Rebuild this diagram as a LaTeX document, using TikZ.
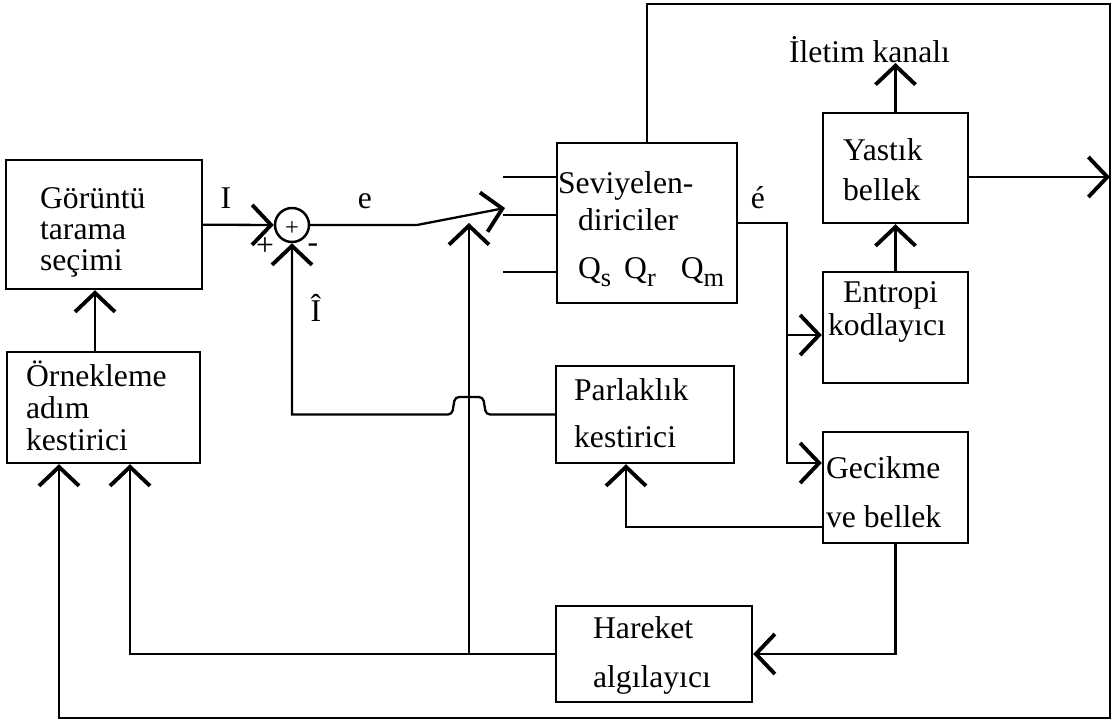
\documentclass[tikz,border=0pt]{standalone}
\usepackage{fontspec}
\setmainfont{Liberation Serif}
\usetikzlibrary{arrows.meta}
\newcommand\lblfont[1]{\fontsize{18}{#1}\selectfont}
\newcommand\qsub[1]{Q\raisebox{-5pt}{\fontsize{15}{15}\selectfont #1}}

\begin{document}
\begin{tikzpicture}[x=0.02cm, y=-0.02cm, line width=1.3pt,
    kutu/.style 2 args={draw, line width=1.4pt, inner sep=0pt, minimum width=#1, minimum height=#2},
    metin/.style={align=left, inner sep=0pt, anchor=base west},
    isaret/.style={inner sep=0pt, font=\lblfont{20pt}},
    ok/.style={-{Straight Barb[length=0.38cm, width=0.8cm, line width=2.2pt]}}
  ]
  \useasboundingbox (0,0) rectangle (1114,723);

  % bloklar
  \node[kutu={3.92cm}{2.58cm}] (goruntu) at (104,224.5) {};
  \node[kutu={3.86cm}{2.22cm}] (ornek) at (103.5,407.5) {};
  \node[kutu={3.6cm}{3.2cm}] (sev) at (647,223) {};
  \node[kutu={3.56cm}{1.94cm}] (parl) at (645,414.5) {};
  \node[kutu={3.92cm}{1.92cm}] (hareket) at (654,654) {};
  \node[kutu={2.9cm}{2.2cm}] (yastik) at (895.5,168) {};
  \node[kutu={2.9cm}{2.22cm}] (entropi) at (895.5,327.5) {};
  \node[kutu={2.9cm}{2.22cm}] (gecikme) at (895.5,487.5) {};
  \node[draw, circle, line width=1.4pt, minimum size=0.68cm, inner sep=0pt] (sum) at (292,225) {};

  % yazilar (son satirin taban cizgisine gore)
  \node[metin, font=\lblfont{17.5pt}] (goruntuT) at (39,270) {Görüntü\\tarama\\seçimi};
  \node[metin, font=\lblfont{18pt}] (ornekT) at (25,450) {Örnekleme\\adım\\kestirici};
  \node[metin, font=\lblfont{21pt}] (sevT) at (557,278)
    {Seviyelen-\\\hspace*{0.4cm}diriciler\\[0.22cm]\hspace*{0.4cm}\qsub{s}\hspace{0.26cm}\qsub{r}\hspace{0.5cm}\qsub{m}};
  \node[metin, font=\lblfont{26.6pt}] (parlT) at (573,447) {Parlaklık\\kestirici};
  \node[metin, font=\lblfont{27.8pt}] (hareketT) at (592,687) {Hareket\\algılayıcı};
  \node[metin, font=\lblfont{18.5pt}] (entropiT) at (827,335) {\hspace*{0.3cm}Entropi\\kodlayıcı};
  \node[metin, font=\lblfont{27.8pt}] (gecikmeT) at (825,527) {Gecikme\\ve bellek};
  \node[metin, font=\lblfont{22.7pt}] (yastikT) at (842,200) {Yastık\\bellek};
  \node[metin, font=\lblfont{22pt}] (iletim) at (788,63) {İletim kanalı};

  \node[isaret, anchor=base] (isI) at (226,208) {I};
  \node[isaret, anchor=base] (ise) at (365,208) {e};
  \node[isaret, anchor=base] (isE) at (758,208) {é};
  \node[isaret, anchor=base] (isIh) at (316,321) {Î};
  \node[isaret, font=\lblfont{16pt}] (arti) at (265,247) {+};
  \node[isaret] (eksi) at (313,248) {-};
  \node[inner sep=0pt, font=\fontsize{14}{14}\selectfont] (artiic) at (292,229) {+};

  % baglantilar
  \draw[ok] (goruntu) -- (sum);
  \draw[ok] (ornek.north -| 95,0) -- (goruntu.south -| 95,0);
  \coordinate (anahtar) at (417,225);
  \coordinate (anahtarUc) at (505,208);
  \draw[ok] (sum) -- (anahtar) -- (anahtarUc);
  \foreach \y in {177,215,272}
    \draw (503,\y) -- (sev.west |- 0,\y);
  \draw[ok] (hareket.west -| 469,0) -- (469,223);
  \draw[ok] (parl.west) [rounded corners=0.08cm] -- (486,414.5) -- (483,397) -- (455,397) -- (452,414.5)
    [sharp corners] -- (sum.south |- 0,414.5) -- (sum.south);
  \draw[ok] (sev.north) -- (sev.north |- 0,4) -- (1110,4) -- (1110,718) -- (59,718) -- (ornek.south -| 59,0);
  \draw[ok] (hareket.west) -- (130,654) -- (ornek.south -| 130,0);
  \draw[ok] (yastik.east |- 0,177) -- (1110,177);
  \draw[ok] (yastik.north) -- (yastik.north |- iletim.base);
  \draw[ok] (entropi) -- (yastik);
  \coordinate (dal) at (787,335);
  \draw[ok] (sev.east) -| (787,463) -- (gecikme.west |- 0,463);
  \draw[ok] (dal) -- (entropi.west |- dal);
  \draw[ok] (gecikme.west |- 0,527) -| (parl.south -| 626,0);
  \draw[ok] (gecikme.south) |- (hareket.east);
\end{tikzpicture}
\end{document}
